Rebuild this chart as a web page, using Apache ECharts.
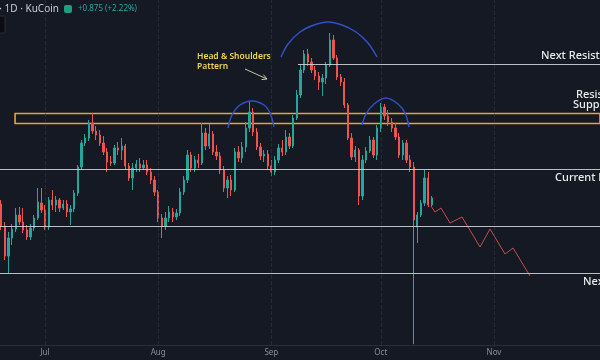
<!DOCTYPE html>
<html><head><meta charset="utf-8">
<script src="https://cdn.jsdelivr.net/npm/echarts@6/dist/echarts.min.js"></script>
<style>html,body{margin:0;padding:0;background:#151924;}#c{width:600px;height:360px;}</style>
</head><body><div id="c"></div>
<script>
// ---- data (daily HYPE/USDT candles) ----
const firstDate = '2025-06-19';
const opens = [
 39.52,36.88,33.28,35.44,36.52,38.2,37.36,36.4,35.56,36.64,
 37.84,39.64,38.8,36.76,40.0,39.4,40.0,39.04,39.52,38.56,
 38.92,40.84,43.96,46.84,47.44,49.24,48.28,47.8,46.84,45.76,
 44.56,44.44,46.24,46.0,46.48,44.08,42.64,43.84,44.32,43.84,
 44.2,43.36,42.4,40.96,37.84,36.88,37.84,38.56,37.96,38.44,
 40.96,42.4,45.4,43.84,44.8,44.44,48.04,46.48,47.92,45.76,
 45.28,43.6,41.44,42.4,41.2,45.76,45.04,46.36,48.64,50.56,
 48.16,46.36,45.28,45.52,44.08,43.36,44.8,46.24,45.76,47.56,
 46.48,49.84,52.6,55.6,57.52,56.56,55.6,54.88,54.16,54.64,
 56.2,59.2,57.04,54.76,54.16,51.4,47.44,45.16,46.0,40.48,
 44.8,45.88,47.2,45.4,48.64,51.16,50.08,49.36,48.64,47.56,
 45.4,46.84,44.8,43.96,36.76,38.2,39.64,42.64,39.4];
const closes = [
 36.88,33.28,35.44,36.52,38.2,37.36,36.4,35.56,36.64,37.84,
 39.76,38.8,36.76,40.0,39.4,40.0,39.04,39.52,38.56,38.92,
 40.84,43.96,46.84,47.44,49.24,48.28,47.8,46.84,45.76,44.56,
 44.44,46.24,46.0,46.48,44.08,42.64,43.84,44.32,43.84,44.2,
 43.36,42.4,40.96,37.84,36.88,37.84,38.56,37.96,38.44,40.96,
 42.4,45.4,43.84,44.8,44.44,48.04,46.48,47.92,45.76,45.28,
 43.6,41.44,42.4,41.2,45.76,45.04,46.36,48.64,50.56,48.16,
 46.36,45.28,45.52,44.08,43.36,44.8,46.24,45.76,47.56,46.48,
 49.84,52.6,55.6,57.52,56.56,55.6,54.88,54.16,54.64,56.2,
 59.2,57.04,54.76,54.16,51.4,47.44,45.16,46.0,40.48,44.8,
 45.88,47.2,45.4,48.64,51.16,50.08,49.36,48.64,47.56,45.4,
 46.84,44.8,43.96,37.6,38.2,39.64,42.64,39.4,40.24];
const lows = [
 36.4,32.8,31.24,34.6,36.16,37.0,36.04,35.2,35.2,36.28,
 37.6,38.44,36.4,36.4,38.8,38.56,38.56,38.8,37.96,37.0,
 38.56,40.48,43.6,46.48,47.08,47.92,47.2,46.48,45.4,43.36,
 44.08,44.2,45.4,44.8,43.6,42.28,41.2,43.36,43.36,43.6,
 43.0,41.92,40.48,37.36,35.44,36.4,37.36,37.36,37.6,38.08,
 40.6,42.04,43.36,43.36,43.84,44.2,46.0,46.12,45.4,44.8,
 43.12,40.96,40.24,40.48,40.96,44.56,44.44,45.76,48.16,47.68,
 46.0,44.8,44.56,43.6,42.88,43.0,44.44,45.28,45.4,46.12,
 46.24,49.6,52.24,55.24,56.08,55.24,54.4,53.2,52.48,53.92,
 55.96,56.8,54.4,53.68,51.04,47.2,44.8,44.56,39.4,40.0,
 44.44,45.64,45.04,44.8,48.16,49.6,48.88,48.16,47.2,45.04,
 44.8,44.44,43.36,22.7,34.84,37.96,39.28,39.16,39.16];
const highs = [
 40.0,37.36,36.16,37.12,39.04,39.16,39.04,37.0,37.12,38.2,
 41.44,41.44,39.4,40.36,41.2,40.48,40.24,40.0,40.0,39.4,
 41.2,44.2,47.2,47.92,49.6,50.44,48.88,48.4,47.68,46.24,
 45.28,46.6,46.96,47.44,46.72,44.44,44.44,44.8,45.04,44.8,
 44.8,43.84,42.88,41.2,38.32,38.56,39.28,39.04,38.92,41.44,
 42.88,46.0,45.76,45.28,45.52,49.24,48.64,49.12,48.28,46.6,
 45.76,44.08,42.88,43.0,46.24,46.48,46.96,49.36,51.88,51.04,
 48.64,46.84,46.0,46.0,44.8,45.28,46.72,47.2,48.4,48.04,
 50.2,53.2,56.32,58.0,58.12,57.04,56.08,55.36,55.12,56.56,
 60.04,59.8,57.4,55.12,54.64,51.64,48.04,46.48,46.24,45.4,
 46.36,47.68,47.56,49.0,51.64,51.52,50.8,49.84,49.24,48.04,
 47.2,47.2,45.4,44.56,38.56,40.0,43.6,43.36,40.48];

// month labels (day index counted from 2025-07-01)
const monthTicks = [0, 31, 62, 92, 123];
const monthNames = ['Jul', 'Aug', 'Sep', 'Oct', 'Nov'];

// horizontal levels (price)
const fullLevels = [43.72, 36.88, 31.24];
const nextResLevel = 56.32, nextResStartDay = 69.3;
const zoneTop = 50.38, zoneBottom = 49.18, zoneStartDay = -8.2;

// projected path  [day, price]
const projection = [[105.75,39.28],[106.85,38.56],[108.49,39.04],[110.96,37.24],[114.25,37.96],
  [119.18,34.36],[121.92,36.52],[126.03,33.52],[128.22,34.24],[132.88,30.88]];
// head & shoulders arcs [day, price]
const arcLeft  = [[50.14,48.64],[51.23,50.2],[53.42,51.4],[56.71,51.88],[60.0,51.4],[61.64,50.44],[62.74,48.76]];
const arcHead  = [[64.66,57.16],[66.58,58.72],[69.86,60.16],[73.7,61.0],[77.53,61.36],[81.37,61.0],[85.21,60.16],[88.49,58.84],[90.96,57.16]];
const arcRight = [[86.85,49.0],[87.95,50.32],[90.14,51.52],[93.42,52.24],[96.71,51.52],[98.63,50.44],[99.73,48.76]];

// ---- build ----
const DAY = 86400000;
const base = Date.parse('2025-07-01T00:00:00Z');
const start = Date.parse(firstDate + 'T00:00:00Z');
const candles = opens.map((o, i) => {
  const d = Math.round((start + i * DAY - base) / DAY);
  return [d, o, closes[i], lows[i], highs[i]];
});

const chart = echarts.init(document.getElementById('c'), null, {renderer: 'canvas'});
const levelStyle = {color: 'rgba(215,218,225,0.85)', width: 1, type: 'solid'};
const arcStyle = {color: '#3050c4', width: 1.5};
const option = {
  backgroundColor: '#151924',
  animation: false,
  grid: {left: 0, right: 0, top: 0, bottom: 15, containLabel: false},
  xAxis: {
    type: 'value', min: -12.33, max: 152.05,
    axisLine: {show: true, lineStyle: {color: '#2a2e39'}},
    axisTick: {show: false},
    splitLine: {show: false},
    axisLabel: {
      customValues: monthTicks,
      formatter: v => monthNames[monthTicks.indexOf(v)] || '',
      color: '#8b8f99', fontSize: 8, margin: 4, fontFamily: 'Noto Sans'
    }
  },
  yAxis: {type: 'value', min: 22.6, max: 64, show: false},
  series: [
    {
      type: 'candlestick',
      data: candles,
      encode: {x: 0, y: [1, 2, 3, 4]},
      barWidth: 1.8,
      itemStyle: {color: '#26a69a', color0: '#ef5350', borderColor: '#26a69a', borderColor0: '#ef5350', borderWidth: 1},
      markLine: {
        silent: true, symbol: 'none', label: {show: false},
        data: [
          ...monthTicks.map(v => ({xAxis: v, lineStyle: {color: 'rgba(60,66,84,0.45)', width: 1}})),
          ...fullLevels.map(v => ({yAxis: v, lineStyle: levelStyle})),
          [{coord: [nextResStartDay, nextResLevel], lineStyle: levelStyle}, {coord: [152.05, nextResLevel]}]
        ]
      },
      markArea: {
        silent: true,
        itemStyle: {color: 'rgba(0,0,0,0)', borderColor: '#e9a23b', borderWidth: 1.6},
        data: [[{coord: [zoneStartDay, zoneTop]}, {coord: [153, zoneBottom]}]]
      }
    },
    {type: 'line', data: projection, symbol: 'none', lineStyle: {color: '#c84b4b', width: 1}, z: 4},
    {type: 'line', data: arcLeft, smooth: 0.35, symbol: 'none', lineStyle: arcStyle, z: 4},
    {type: 'line', data: arcHead, smooth: 0.35, symbol: 'none', lineStyle: arcStyle, z: 4},
    {type: 'line', data: arcRight, smooth: 0.35, symbol: 'none', lineStyle: arcStyle, z: 4}
  ],
  graphic: [
    {type: 'text', x: 59, y: 9, style: {text: 'Hyperliquid / Tether · 1D · KuCoin', align: 'right', verticalAlign: 'middle', fill: '#c9ccd4', font: '10px "Noto Sans"'}},
    {type: 'rect', shape: {x: 64, y: 5, width: 8, height: 8, r: 2}, style: {fill: '#1f9f82'}},
    {type: 'text', x: 78, y: 9, style: {text: '+0.875 (+2.22%)', verticalAlign: 'middle', fill: '#26a69a', font: '8px "Noto Sans"'}},
    {type: 'rect', shape: {x: -1, y: 16, width: 6, height: 17, r: 1}, style: {fill: '#0b0d13', stroke: '#2b2f3a', lineWidth: 1}},
    {type: 'text', x: 197, y: 57, style: {text: 'Head & Shoulders', verticalAlign: 'middle', fill: '#efd54d', font: '600 8.5px "Noto Sans"'}},
    {type: 'text', x: 197, y: 67, style: {text: 'Pattern', verticalAlign: 'middle', fill: '#efd54d', font: '600 8.5px "Noto Sans"'}},
    {type: 'polyline', shape: {points: [[245, 69], [267, 79]]}, style: {stroke: '#c9c39a', lineWidth: 1}},
    {type: 'polyline', shape: {points: [[261.5, 79.6], [267, 79], [263.4, 74.7]]}, style: {stroke: '#c9c39a', lineWidth: 1, fill: null}},
    {type: 'text', x: 541, y: 56, style: {text: 'Next Resistance', verticalAlign: 'middle', fill: '#ececec', font: '500 11px "Noto Sans"'}},
    {type: 'text', x: 576, y: 95, style: {text: 'Resistance', verticalAlign: 'middle', fill: '#ececec', font: '500 11px "Noto Sans"'}},
    {type: 'text', x: 573, y: 105, style: {text: 'Supply Zone', verticalAlign: 'middle', fill: '#ececec', font: '500 11px "Noto Sans"'}},
    {type: 'text', x: 555, y: 178, style: {text: 'Current Resistance', verticalAlign: 'middle', fill: '#ececec', font: '500 11px "Noto Sans"'}},
    {type: 'text', x: 583, y: 282, style: {text: 'Next Support', verticalAlign: 'middle', fill: '#ececec', font: '500 11px "Noto Sans"'}}
  ]
};
chart.setOption(option);
</script>
</body></html>
